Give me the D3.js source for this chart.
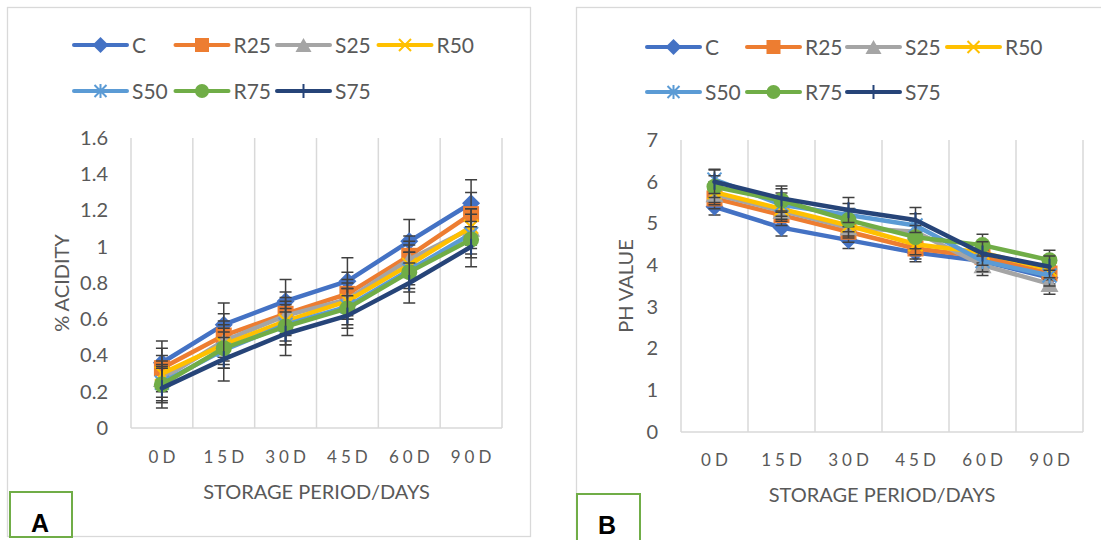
<!DOCTYPE html>
<html>
<head>
<meta charset="utf-8">
<title>Acidity and pH</title>
<script src="https://d3js.org/d3.v7.min.js"></script>
<style>
  body { margin: 0; background: #fff; }
  text { font-family: Lato, "Liberation Sans", Arial, sans-serif; fill: #595959; }
</style>
</head>
<body>
<script>
// categories and series
const days = ["0D", "15D", "30D", "45D", "60D", "90D"];
const seriesNames = ["C", "R25", "S25", "R50", "S50", "R75", "S75"];
const seriesColors = ["#4472C4", "#ED7D31", "#A5A5A5", "#FFC000", "#5B9BD5", "#70AD47", "#264478"];
const seriesMarkers = ["diamond", "square", "triangle", "x", "star", "circle", "plus"];

// panel A: % acidity (rows follow seriesNames)
const acidityValues = [
  [0.36, 0.57, 0.70, 0.81, 1.03, 1.24],
  [0.33, 0.51, 0.63, 0.74, 0.95, 1.18],
  [0.27, 0.48, 0.62, 0.71, 0.93, 1.10],
  [0.30, 0.46, 0.59, 0.70, 0.90, 1.11],
  [0.25, 0.43, 0.57, 0.67, 0.87, 1.07],
  [0.24, 0.44, 0.56, 0.66, 0.86, 1.04],
  [0.22, 0.38, 0.52, 0.62, 0.80, 1.00]
];
const acidityErrors = [
  [0.12, 0.12, 0.12, 0.13, 0.12, 0.13],
  [0.11, 0.12, 0.12, 0.12, 0.11, 0.12],
  [0.10, 0.11, 0.10, 0.11, 0.10, 0.11],
  [0.10, 0.11, 0.11, 0.10, 0.11, 0.10],
  [0.10, 0.10, 0.11, 0.10, 0.10, 0.11],
  [0.10, 0.11, 0.10, 0.11, 0.11, 0.10],
  [0.11, 0.12, 0.12, 0.11, 0.11, 0.11]
];
const acidityTicks = [0, 0.2, 0.4, 0.6, 0.8, 1, 1.2, 1.4, 1.6];

// panel B: pH value
const phValues = [
  [5.40, 4.90, 4.60, 4.30, 4.10, 3.70],
  [5.60, 5.20, 4.80, 4.40, 4.20, 3.80],
  [5.70, 5.30, 4.90, 4.80, 4.00, 3.55],
  [5.75, 5.35, 4.95, 4.50, 4.30, 3.90],
  [6.05, 5.45, 5.20, 4.95, 4.10, 3.75],
  [5.88, 5.55, 5.08, 4.67, 4.48, 4.12],
  [6.00, 5.60, 5.32, 5.08, 4.28, 3.96]
];
const phErrors = [
  [0.20, 0.20, 0.20, 0.22, 0.20, 0.20],
  [0.25, 0.25, 0.25, 0.25, 0.25, 0.25],
  [0.25, 0.25, 0.25, 0.25, 0.25, 0.25],
  [0.25, 0.25, 0.25, 0.25, 0.25, 0.25],
  [0.25, 0.28, 0.28, 0.28, 0.26, 0.25],
  [0.26, 0.28, 0.28, 0.28, 0.26, 0.24],
  [0.28, 0.30, 0.30, 0.30, 0.28, 0.26]
];
const phTicks = [0, 1, 2, 3, 4, 5, 6, 7];

const svg = d3.select("body").append("svg")
    .attr("width", 1101)
    .attr("height", 540);

// draws one marker of a given kind centred at (0,0) inside g
function drawMarker(g, kind, color, s) {
  const h = s / 2;
  if (kind === "diamond") {
    g.append("path").attr("d", `M0,${-h - 1}L${h + 1},0L0,${h + 1}L${-h - 1},0Z`).attr("fill", color);
  } else if (kind === "square") {
    g.append("rect").attr("x", -h).attr("y", -h).attr("width", s).attr("height", s).attr("fill", color);
  } else if (kind === "triangle") {
    g.append("path").attr("d", `M0,${-h}L${h + 1},${h}L${-h - 1},${h}Z`).attr("fill", color);
  } else if (kind === "circle") {
    g.append("circle").attr("r", h).attr("fill", color);
  } else {
    const k = h - 1;
    let d = "";
    if (kind === "x" || kind === "star") d += `M${-k},${-k}L${k},${k}M${-k},${k}L${k},${-k}`;
    if (kind === "star" || kind === "plus") d += `M0,${-h}L0,${h}`;
    g.append("path").attr("d", d).attr("stroke", color).attr("stroke-width", 2).attr("fill", "none");
  }
}

function drawPanel(p) {
  // outer chart frame
  svg.append("rect")
      .attr("x", p.frame[0]).attr("y", p.frame[1])
      .attr("width", p.frame[2]).attr("height", p.frame[3])
      .attr("fill", "none").attr("stroke", "#d9d9d9").attr("stroke-width", 1.3);

  const x = d3.scaleBand().domain(days).range([p.left, p.right]);
  const y = d3.scaleLinear().domain([0, p.ticks[p.ticks.length - 1]]).range([p.bottom, p.top]);

  // vertical gridlines between categories + bottom axis line
  const bounds = days.map(d => x(d)).concat([p.right]);
  svg.append("g").selectAll("line").data(bounds).join("line")
      .attr("x1", d => d).attr("x2", d => d)
      .attr("y1", p.top).attr("y2", p.bottom)
      .attr("stroke", "#d9d9d9").attr("stroke-width", 1.5);
  svg.append("line")
      .attr("x1", p.left).attr("x2", p.right)
      .attr("y1", p.bottom).attr("y2", p.bottom)
      .attr("stroke", "#d9d9d9").attr("stroke-width", 1.5);

  // y axis labels
  const yAxis = svg.append("g")
      .attr("transform", `translate(${p.labelRight},0)`)
      .call(d3.axisLeft(y).tickValues(p.ticks).tickSize(0).tickPadding(0)
        .tickFormat(d => String(+d.toFixed(1))));
  yAxis.select(".domain").remove();
  yAxis.selectAll("text")
      .style("font-family", 'Lato, "Liberation Sans", Arial, sans-serif')
      .style("font-size", "20px").attr("fill", "#595959");

  // x axis labels
  const xAxis = svg.append("g")
      .attr("transform", `translate(0,${p.xLabelY})`)
      .call(d3.axisBottom(x).tickSize(0).tickPadding(0));
  xAxis.select(".domain").remove();
  xAxis.selectAll("text")
      .attr("dy", "0.35em").attr("dx", "2px")
      .style("font-family", 'Lato, "Liberation Sans", Arial, sans-serif')
      .style("font-size", "17px").style("letter-spacing", "4px").attr("fill", "#595959");

  // axis titles
  svg.append("text")
      .attr("x", (p.left + p.right) / 2).attr("y", p.xTitleY).attr("dy", "0.35em")
      .attr("text-anchor", "middle").style("font-size", "20px")
      .text("STORAGE PERIOD/DAYS");
  svg.append("text")
      .attr("transform", `translate(${p.yTitleX},${(p.top + p.bottom) / 2}) rotate(-90)`)
      .attr("dy", "0.35em").attr("text-anchor", "middle").style("font-size", "20px")
      .text(p.yTitle);

  // series
  const line = d3.line().x((d, i) => x(days[i]) + x.bandwidth() / 2).y(d => y(d));
  seriesNames.forEach((name, s) => {
    const g = svg.append("g");
    const vals = p.values[s], errs = p.errors[s];
    g.append("path").datum(vals).attr("d", line)
        .attr("fill", "none").attr("stroke", seriesColors[s])
        .attr("stroke-width", 4.5).attr("stroke-linejoin", "round").attr("stroke-linecap", "round");
    vals.forEach((v, i) => {
      const cx = x(days[i]) + x.bandwidth() / 2;
      const e = errs[i];
      g.append("path")
          .attr("d", `M${cx},${y(v - e)}L${cx},${y(v + e)}M${cx - 6},${y(v - e)}L${cx + 6},${y(v - e)}M${cx - 6},${y(v + e)}L${cx + 6},${y(v + e)}`)
          .attr("stroke", "#404040").attr("stroke-width", 1.5).attr("fill", "none");
      drawMarker(g.append("g").attr("transform", `translate(${cx},${y(v)})`), seriesMarkers[s], seriesColors[s], 16);
    });
  });

  // legend
  seriesNames.forEach((name, s) => {
    const col = s < 4 ? s : s - 4;
    const lx = p.legendX + col * p.legendStep;
    const ly = s < 4 ? p.legendY[0] : p.legendY[1];
    const g = svg.append("g").attr("transform", `translate(${lx},${ly})`);
    g.append("line").attr("x1", 0).attr("x2", 53).attr("y1", 0).attr("y2", 0)
        .attr("stroke", seriesColors[s]).attr("stroke-width", 4).attr("stroke-linecap", "round");
    drawMarker(g.append("g").attr("transform", "translate(26.5,0)"), seriesMarkers[s], seriesColors[s], 14);
    g.append("text").attr("x", 58).attr("dy", "0.36em").style("font-size", "21px").text(name);
  });

  // panel letter box
  svg.append("rect")
      .attr("x", p.box[0]).attr("y", p.box[1]).attr("width", p.box[2]).attr("height", p.box[3])
      .attr("fill", "#fff").attr("stroke", "#70AD47").attr("stroke-width", 2);
  svg.append("text")
      .attr("x", p.box[0] + 30).attr("y", p.letterY)
      .attr("text-anchor", "middle").style("font-size", "25px").style("font-weight", "bold")
      .style("font-family", '"Liberation Sans", Arial, sans-serif')
      .style("fill", "#000")
      .text(p.letter);
}

drawPanel({
  frame: [7.5, 7.5, 523, 529],
  left: 131, right: 502, top: 138, bottom: 428,
  ticks: acidityTicks, values: acidityValues, errors: acidityErrors,
  labelRight: 108, xLabelY: 457, xTitleY: 492, yTitleX: 62, yTitle: "% ACIDITY",
  legendX: 74, legendStep: 101.5, legendY: [45, 91],
  box: [10, 492, 62, 45], letter: "A", letterY: 532
});

drawPanel({
  frame: [576.5, 7.5, 620, 600],
  left: 681, right: 1083, top: 140, bottom: 432,
  ticks: phTicks, values: phValues, errors: phErrors,
  labelRight: 658, xLabelY: 460, xTitleY: 495, yTitleX: 626, yTitle: "PH VALUE",
  legendX: 647, legendStep: 100, legendY: [47, 92],
  box: [577, 494, 63, 60], letter: "B", letterY: 534
});
</script>
</body>
</html>
